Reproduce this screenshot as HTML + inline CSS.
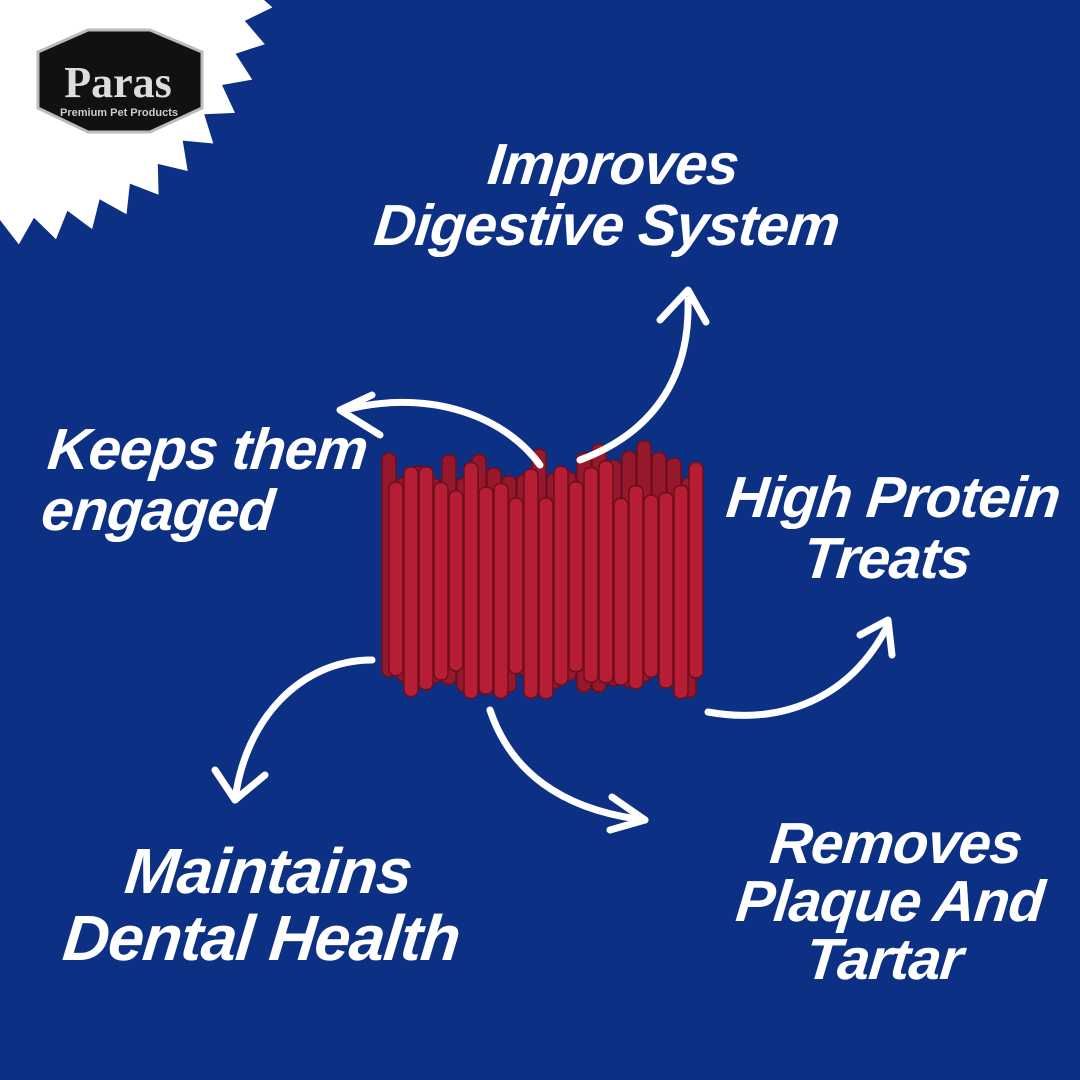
<!DOCTYPE html>
<html><head><meta charset="utf-8"><style>
html,body{margin:0;padding:0}
body{width:1080px;height:1080px;background:#0c3184;position:relative;overflow:hidden;font-family:"Liberation Sans",sans-serif}
.t{position:absolute;color:#fff;font-style:italic;font-weight:bold;text-align:center;line-height:1.05;font-size:58px;letter-spacing:-1px;transform:skewX(-6deg)}
</style></head><body>
<svg id="s" width="1080" height="1080" style="position:absolute;left:0;top:0">
<polygon id="star" fill="#fff"/>
<g>
<path d="M38,52 L88,30 L150,30 L202,52 L202,108 L150,132 L88,132 L38,108 Z" fill="#111" stroke="#bbb" stroke-width="3"/>
<text x="118" y="97" text-anchor="middle" font-family="Liberation Serif" font-weight="bold" font-size="44" fill="#ddd">Paras</text>
<text x="119" y="116" text-anchor="middle" font-family="Liberation Sans" font-weight="bold" font-size="11" fill="#ccc">Premium Pet Products</text>
</g>
<g id="sticks"></g>
<g fill="none" stroke="#fff" stroke-width="7" stroke-linecap="round" stroke-linejoin="round">
<path d="M580,460 C660,430 690,370 688,300"/><path d="M660,320 L688,290 L706,322"/>
<path d="M540,465 C500,410 420,390 345,410"/><path d="M380,435 L340,410 L372,395"/>
<path d="M372,660 C300,660 245,720 235,800"/><path d="M215,770 L235,800 L265,775"/>
<path d="M490,710 C510,770 560,810 645,820"/><path d="M612,797 L645,820 L610,830"/>
<path d="M708,712 C780,725 850,700 888,625"/><path d="M860,635 L888,620 L892,655"/>
</g>
</svg>
<div class="t" style="left:360px;top:135px;width:500px">Improves<br>Digestive System</div>
<div class="t" style="left:20px;top:420px;width:360px;text-align:left;padding-left:25px">Keeps them<br>engaged</div>
<div class="t" style="left:690px;top:468px;width:400px">High Protein<br>Treats</div>
<div class="t" style="left:30px;top:838px;width:470px;font-size:64px">Maintains<br>Dental Health</div>
<div class="t" style="left:700px;top:815px;width:380px;line-height:1.0">Removes<br>Plaque And<br>Tartar</div>
<script>
var p=[],cx=0,cy=-30,n=92;
for(var i=0;i<n;i++){var a=i*Math.PI*2/n,r=i%2?250:275;p.push((cx+r*Math.cos(a)).toFixed(1)+","+(cy+r*Math.sin(a)).toFixed(1));}
document.getElementById('star').setAttribute('points',p.join(' '));
var g=document.getElementById('sticks'),h='';
var seed=3;function rnd(){seed=(seed*9301+49297)%233280;return seed/233280;}
for(var k=0;k<2;k++)for(var x=382;x<688;x+=15){var y0=440+rnd()*40+(k?20:0),y1=670+rnd()*30;
var c=k?'#b81d36':'#95182c';h+='<rect x="'+(x+(k?7:0))+'" y="'+y0+'" width="14" height="'+(y1-y0)+'" rx="6" fill="'+c+'" stroke="#6e0e1c" stroke-width="1.5"/>';}
g.innerHTML=h;
</script>
</body></html>
